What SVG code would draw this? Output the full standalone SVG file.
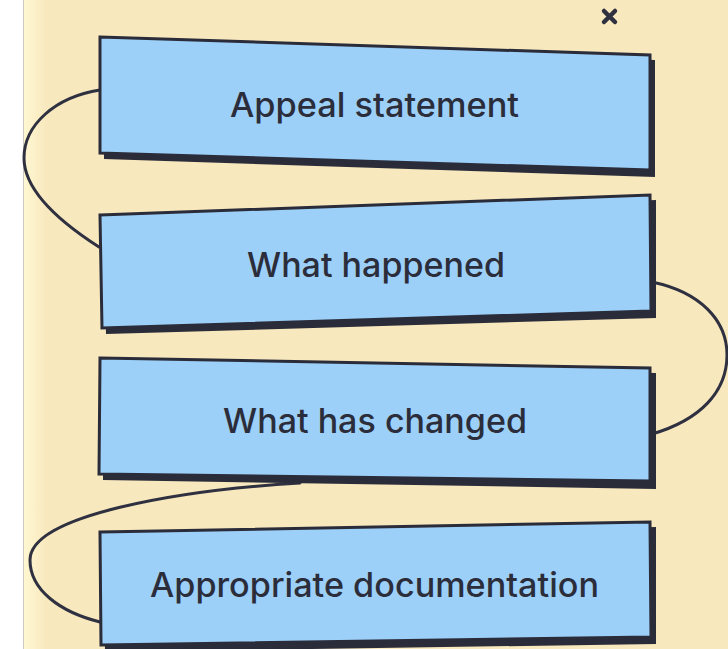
<svg xmlns="http://www.w3.org/2000/svg" width="728" height="649" viewBox="0 0 728 649">
<defs>
<linearGradient id="edge" x1="0" y1="0" x2="1" y2="0">
<stop offset="0" stop-color="#FFF8D2"/>
<stop offset="1" stop-color="#F8E8BE"/>
</linearGradient>
<style>
.shadow{fill:#2B2C3A;}
.box{fill:#9DD0F8;stroke:#2B2C3A;stroke-width:3;stroke-linejoin:miter;}
.lbl{font-family:Inter,"Liberation Sans",sans-serif;font-weight:500;font-size:33.5px;fill:#2B2D3B;}
.conn{fill:none;stroke:#2F3140;stroke-width:3;stroke-linecap:round;}
</style>
</defs>
<rect x="0" y="0" width="728" height="649" fill="#F8E8BE"/>
<rect x="0" y="0" width="23" height="649" fill="#FFFFFF"/>
<rect x="23" y="0" width="24" height="649" fill="url(#edge)"/>
<line x1="23.5" y1="0" x2="23.5" y2="649" stroke="#CFCBC0" stroke-width="1"/>
<g id="close-mark">
<path d="M604,11 L615,22 M615,11 L604,22" stroke="#2F3140" stroke-width="4.5" stroke-linecap="round"/>
</g>
<g id="connectors">
<path class="conn" d="M100,90 C55,97 24,125 24,158 C24,190 60,222 99,247"/>
<path class="conn" d="M652,282 C700,292 727,320 727,355 C727,392 700,420 652,434"/>
<path class="conn" d="M300,483 C180,490 30,515 30,560 C30,590 60,612 100,622"/>
</g>
<g id="node-appeal-statement">
<polygon class="shadow" points="104,42 655,60 655,177 104,159"/>
<polygon class="box" points="100,37 650,55 650,170 100,153"/>
<text class="lbl" x="230" y="117" textLength="289" lengthAdjust="spacingAndGlyphs">Appeal statement</text>
</g>
<g id="node-what-happened">
<polygon class="shadow" points="104,220 656,200 656,318 106,334"/>
<polygon class="box" points="100,215 650,195 651,311 102,328"/>
<text class="lbl" x="247" y="277" textLength="258" lengthAdjust="spacingAndGlyphs">What happened</text>
</g>
<g id="node-what-has-changed">
<polygon class="shadow" points="104,363 656,373 656,489 103,480"/>
<polygon class="box" points="100,358 650,368 650,481 99,474"/>
<text class="lbl" x="223" y="433" textLength="304" lengthAdjust="spacingAndGlyphs">What has changed</text>
</g>
<g id="node-appropriate-documentation">
<polygon class="shadow" points="104,537 656,527 656,644 105,652"/>
<polygon class="box" points="100,532 650,522 651,637 101,645"/>
<text class="lbl" x="150" y="597" textLength="449" lengthAdjust="spacingAndGlyphs">Appropriate documentation</text>
</g>
</svg>
